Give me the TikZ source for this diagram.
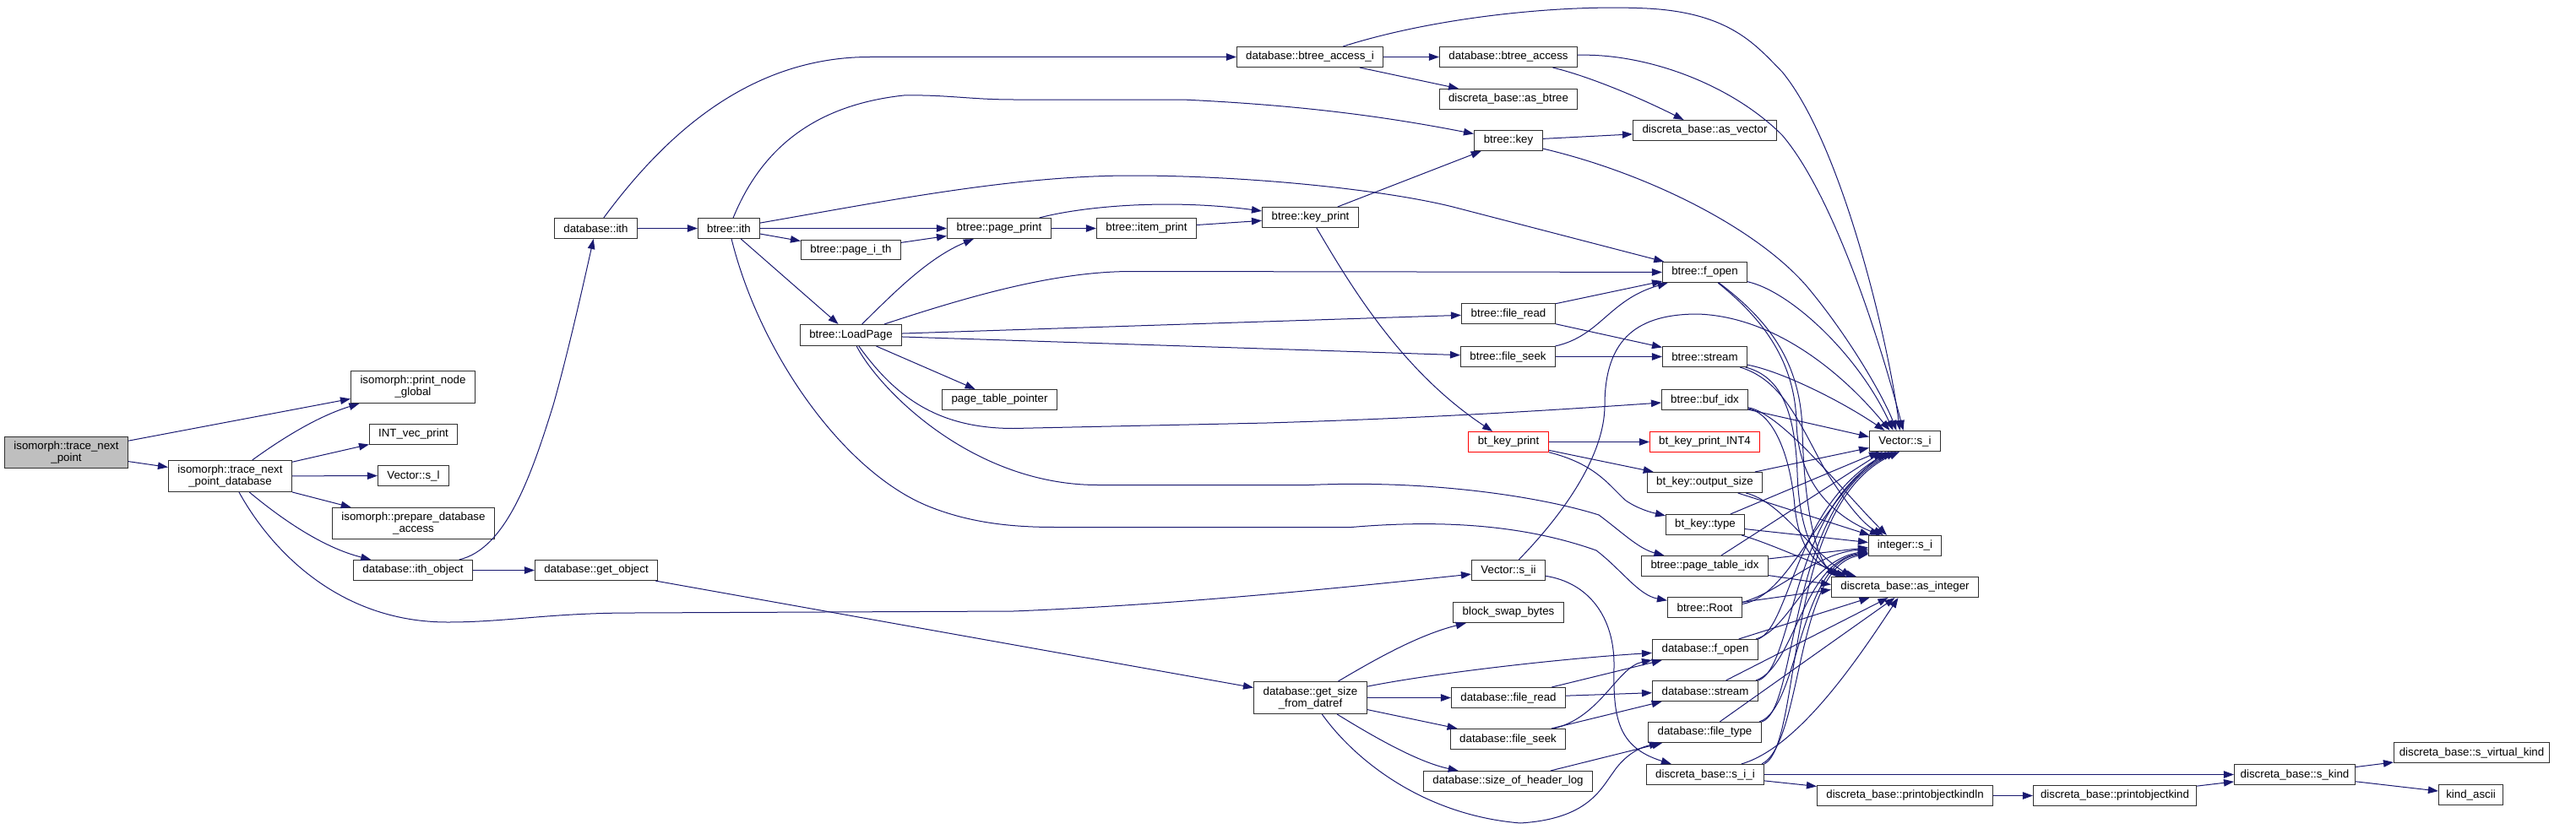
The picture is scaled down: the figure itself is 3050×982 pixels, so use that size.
\documentclass[tikz,border=0pt]{standalone}
\usepackage{fontspec}
\setmainfont{Liberation Sans}
\usetikzlibrary{arrows.meta}
\definecolor{edgec}{HTML}{191970}
\definecolor{boxc}{HTML}{303030}
\tikzset{
  nbox/.style={draw=boxc, line width=1.1pt, inner sep=0pt, align=center,
    font=\fontsize{13.3}{14}\selectfont, fill=white},
  redbox/.style={draw=red},
  graybox/.style={fill=gray!50},
  edge/.style={draw=edgec, line width=1pt, -{Triangle[length=12pt,width=8.5pt]}},
}
\newcommand{\gnode}[7][]{\node[nbox,#1,minimum width=#5pt,minimum height=#6pt] (#2) at (#3+0.5,#4+0.5) {#7};}
\begin{document}
\begin{tikzpicture}[x=1pt,y=-1pt]
\useasboundingbox (0,0) rectangle (3050,982);
% nodes
\gnode[graybox]{tnp}{78}{535.5}{146}{37}{isomorph::trace\_next\\\_point}
\gnode{tnpd}{272}{563.5}{146}{37}{isomorph::trace\_next\\\_point\_database}
\gnode{png}{488.5}{458}{147}{38}{isomorph::print\_node\\\_global}
\gnode{ivp}{489}{514}{104}{24}{INT\_vec\_print}
\gnode{vsl}{489}{563}{84}{24}{Vector::s\_l}
\gnode{pda}{489}{619.5}{192}{37}{isomorph::prepare\_database\\\_access}
\gnode{ito}{488.5}{675}{141}{24}{database::ith\_object}
\gnode{dith}{705}{270}{98}{24}{database::ith}
\gnode{gobj}{705.5}{675}{145}{24}{database::get\_object}
\gnode{bith}{862.5}{270}{73}{24}{btree::ith}
\gnode{pith}{1007}{295.5}{118}{23}{btree::page\_i\_th}
\gnode{lp}{1007}{396.5}{120}{25}{btree::LoadPage}
\gnode{pp}{1182.5}{270}{123}{24}{btree::page\_print}
\gnode{ptp}{1183}{473}{136}{24}{page\_table\_pointer}
\gnode{ip}{1357}{270}{118}{24}{btree::item\_print}
\gnode{bai}{1550.5}{67}{173}{24}{database::btree\_access\_i}
\gnode{kp}{1551}{257}{114}{24}{btree::key\_print}
\gnode{ba}{1785.5}{67}{163}{24}{database::btree\_access}
\gnode{asb}{1785.5}{117}{163}{24}{discreta\_base::as\_btree}
\gnode{key}{1785.5}{166}{81}{24}{btree::key}
\gnode{asv}{2018}{154}{170}{24}{discreta\_base::as\_vector}
\gnode{bfo}{2018}{322}{100}{24}{btree::f\_open}
\gnode{bfr}{1785.5}{371}{111}{24}{btree::file\_read}
\gnode{bfs}{1785}{422}{112}{24}{btree::file\_seek}
\gnode{bst}{2018}{422}{100}{24}{btree::stream}
\gnode{bbi}{2018}{473}{102}{24}{btree::buf\_idx}
\gnode[redbox]{bkp}{1785.5}{523}{95}{24}{bt\_key\_print}
\gnode{vsii}{1785.5}{675}{87}{24}{Vector::s\_ii}
\gnode{bsb}{1785.5}{725}{131}{24}{block\_swap\_bytes}
\gnode{gsd}{1551}{826}{134}{38}{database::get\_size\\\_from\_datref}
\gnode{dfr}{1785.5}{826}{135}{24}{database::file\_read}
\gnode{dfs}{1785}{875}{136}{24}{database::file\_seek}
\gnode{shl}{1785}{925}{200}{24}{database::size\_of\_header\_log}
\gnode[redbox]{int4}{2018}{523}{130}{24}{bt\_key\_print\_INT4}
\gnode{bos}{2018}{571}{136}{24}{bt\_key::output\_size}
\gnode{bty}{2018.5}{621}{93}{24}{bt\_key::type}
\gnode{pti}{2018}{670}{150}{24}{btree::page\_table\_idx}
\gnode{root}{2018}{719}{88}{24}{btree::Root}
\gnode{dfo}{2018.5}{769}{125}{24}{database::f\_open}
\gnode{dst}{2018.5}{818}{125}{24}{database::stream}
\gnode{dft}{2018}{867}{134}{24}{database::file\_type}
\gnode{sii}{2018.5}{917}{139}{24}{discreta\_base::s\_i\_i}
\gnode{vsi}{2255}{522}{84}{24}{Vector::s\_i}
\gnode{isi}{2255}{646}{86}{24}{integer::s\_i}
\gnode{asi}{2255}{695}{174}{24}{discreta\_base::as\_integer}
\gnode{pokl}{2255}{942}{208}{24}{discreta\_base::printobjectkindln}
\gnode{pok}{2503.5}{942}{193}{24}{discreta\_base::printobjectkind}
\gnode{sk}{2716.5}{917}{143}{24}{discreta\_base::s\_kind}
\gnode{svk}{2926}{891}{184}{24}{discreta\_base::s\_virtual\_kind}
\gnode{ka}{2925}{941}{76}{24}{kind\_ascii}
% edges: left part
\draw[edge] (tnp) -- (png);
\draw[edge] (tnp) -- (tnpd);
\draw[edge] (tnpd) .. controls (340,515) and (380,492) .. (png);
\draw[edge] (tnpd) -- (ivp);
\draw[edge] (tnpd) -- (vsl);
\draw[edge] (tnpd) -- (pda);
\draw[edge] (tnpd) .. controls (330,612) and (380,648) .. (ito);
\draw[edge] (tnpd) .. controls (320,650) and (400,737) .. (530,737) .. controls (600,737) and (650,726) .. (750,726) -- (1200,724) .. controls (1400,716) and (1600,695) .. (vsii);
\draw[edge] (ito) .. controls (600,650) and (630,560) .. (655,480) .. controls (672,420) and (690,340) .. (dith);
\draw[edge] (ito) -- (gobj);
\draw[edge] (gobj) -- (gsd);
\draw[edge] (dith) .. controls (780,170) and (880,67.5) .. (1030,67.5) -- (bai);
\draw[edge] (dith) -- (bith);
% btree_access
\draw[edge] (bai) -- (ba);
\draw[edge] (bai) -- (asb);
\draw[edge] (bai) .. controls (1700,20) and (1850,5) .. (1950,10) .. controls (2050,15) and (2080,55) .. (2110,85) .. controls (2180,170) and (2235,400) .. ([xshift=-6pt]vsi.north);
\draw[edge] (ba) .. controls (1880,90) and (1940,115) .. (asv);
\draw[edge] (ba) .. controls (1950,63) and (2050,100) .. (2110,160) .. controls (2170,230) and (2225,400) .. ([xshift=-2pt]vsi.north);
% btree::ith
\draw[edge] (bith) .. controls (900,180) and (960,125) .. (1070,113) .. controls (1120,112) and (1150,118) .. (1200,118) -- (1400,118) .. controls (1550,125) and (1650,140) .. (key);
\draw[edge] (bith) .. controls (1050,238) and (1200,208) .. (1340,208) .. controls (1480,208) and (1640,225) .. (1720,245) -- (bfo);
\draw[edge] (bith) -- (pp);
\draw[edge] (bith) -- (pith);
\draw[edge] (bith) -- (lp);
\draw[edge] (bith) .. controls (900,420) and (1000,560) .. (1100,600) .. controls (1150,620) and (1200,624.5) .. (1250,624.5) -- (1600,624.5) .. controls (1700,616) and (1800,620) .. (1890,652) .. controls (1920,675) and (1940,705) .. (root);
\draw[edge] (pith) -- (pp);
\draw[edge] (pp) -- (ip);
\draw[edge] (pp) .. controls (1280,245) and (1380,235) .. (kp);
\draw[edge] (ip) -- (kp);
\draw[edge] (kp) -- (key);
\draw[edge] (kp) .. controls (1600,340) and (1660,440) .. (bkp);
\draw[edge] (key) -- (asv);
\draw[edge] (key) .. controls (1950,205) and (2080,270) .. (2140,340) .. controls (2190,400) and (2230,470) .. ([xshift=-10pt]vsi.north);
% LoadPage
\draw[edge] (lp) .. controls (1060,345) and (1100,305) .. (pp);
\draw[edge] (lp) .. controls (1150,350) and (1250,321.5) .. (1340,321.5) -- (bfo);
\draw[edge] (lp) -- (bfr);
\draw[edge] (lp) -- (bfs);
\draw[edge] (lp) -- (ptp);
\draw[edge] (lp) .. controls (1060,470) and (1110,507.5) .. (1200,507.5) -- (1500,501) .. controls (1700,495) and (1850,485) .. (bbi);
\draw[edge] (lp) .. controls (1040,460) and (1150,574.5) .. (1300,574.5) -- (1550,574.5) .. controls (1700,568) and (1830,590) .. (1893,610) .. controls (1920,630) and (1940,650) .. (pti);
\draw[edge] (bfr) -- (bfo);
\draw[edge] (bfr) -- (bst);
\draw[edge] (bfs) .. controls (1895,398) and (1905,355) .. (bfo);
\draw[edge] (bfs) -- (bst);
% bt_key_print
\draw[edge] (bkp) -- (int4);
\draw[edge] (bkp) -- (bos);
\draw[edge] (bkp) .. controls (1890,550) and (1905,575) .. (1925,593) .. controls (1940,603) and (1955,607) .. (bty);
% Vector::s_ii
\draw[edge] (vsii) .. controls (1850,610) and (1900,540) .. (1900,480) .. controls (1900,400) and (1940,372) .. (2010,372) .. controls (2100,375) and (2180,440) .. ([xshift=-18pt]vsi.north);
\draw[edge] (vsii) .. controls (1880,690) and (1912,730) .. (1911,790) .. controls (1910,850) and (1915,885) .. (sii);
% get_size_from_datref
\draw[edge] (gsd) .. controls (1630,780) and (1680,752) .. (bsb);
\draw[edge] (gsd) .. controls (1700,797) and (1850,780) .. (dfo);
\draw[edge] (gsd) -- (dfr);
\draw[edge] (gsd) -- (dfs);
\draw[edge] (gsd) .. controls (1630,875) and (1680,903) .. (shl);
\draw[edge] (gsd) .. controls (1600,895) and (1680,965) .. (1800,975) .. controls (1880,970) and (1895,935) .. (1910,915) .. controls (1920,900) and (1935,887) .. (dft);
\draw[edge] (dfr) -- (dfo);
\draw[edge] (dfr) -- (dst);
\draw[edge] (dfs) .. controls (1895,850) and (1915,790) .. (dfo);
\draw[edge] (dfs) -- (dst);
\draw[edge] (shl) -- (dft);
% into the sinks
\draw[edge] (bfo) .. controls (2120,345) and (2200,420) .. ([xshift=-14pt]vsi.north);
\draw[edge] (bfo) .. controls (2090,380) and (2125,430) .. (2127,500) .. controls (2129,580) and (2180,615) .. ([xshift=14pt]isi.north west);
\draw[edge] (bfo) .. controls (2095,380) and (2132,430) .. (2134,510) .. controls (2136,600) and (2150,660) .. ([xshift=6pt]asi.north west);
\draw[edge] (bst) .. controls (2110,440) and (2180,475) .. ([xshift=-24pt]vsi.north);
\draw[edge] (bst) .. controls (2110,450) and (2130,500) .. (2160,555) .. controls (2185,595) and (2205,620) .. ([xshift=18pt]isi.north west);
\draw[edge] (bst) .. controls (2105,445) and (2125,480) .. (2128,560) .. controls (2130,630) and (2150,665) .. ([xshift=12pt]asi.north west);
\draw[edge] (bbi) -- ([yshift=5pt]vsi.west);
\draw[edge] (bbi) .. controls (2110,490) and (2180,580) .. ([xshift=22pt]isi.north west);
\draw[edge] (bbi) .. controls (2100,490) and (2120,540) .. (2125,600) .. controls (2130,650) and (2150,670) .. ([xshift=18pt]asi.north west);
\draw[edge] (bos) -- ([yshift=-8pt]vsi.west);
\draw[edge] (bos) -- ([xshift=2pt]isi.north west);
\draw[edge] (bos) .. controls (2110,595) and (2140,650) .. ([xshift=24pt]asi.north west);
\draw[edge] (bty) -- ([xshift=12pt]vsi.south west);
\draw[edge] (bty) -- ([yshift=4pt]isi.west);
\draw[edge] (bty) .. controls (2100,645) and (2150,670) .. ([xshift=30pt]asi.north west);
\draw[edge] (pti) -- ([xshift=16pt]vsi.south west);
\draw[edge] (pti) -- ([yshift=-2pt]isi.west);
\draw[edge] (pti) -- ([yshift=3pt]asi.west);
\draw[edge] ([yshift=4pt]root.east) .. controls (2120,705) and (2150,600) .. ([xshift=20pt]vsi.south west);
\draw[edge] ([yshift=6pt]root.east) .. controls (2110,700) and (2150,655) .. ([yshift=-4pt]isi.west);
\draw[edge] (root) -- ([yshift=-3pt]asi.west);
\draw[edge] (dfo.north east) .. controls (2120,740) and (2125,600) .. ([xshift=24pt]vsi.south west);
\draw[edge] ([xshift=-3pt]dfo.north east) .. controls (2120,745) and (2140,665) .. ([yshift=-6pt]isi.west);
\draw[edge] (dfo) -- ([xshift=-42pt]asi.south);
\draw[edge] (dst.north east) .. controls (2125,790) and (2120,600) .. ([xshift=28pt]vsi.south west);
\draw[edge] ([xshift=-3pt]dst.north east) .. controls (2125,790) and (2135,665) .. ([yshift=-8pt]isi.west);
\draw[edge] (dst) -- ([xshift=-20pt]asi.south);
\draw[edge] (dft.north east) .. controls (2130,840) and (2115,600) .. ([xshift=32pt]vsi.south west);
\draw[edge] ([xshift=-3pt]dft.north east) .. controls (2130,840) and (2130,665) .. ([yshift=-9pt]isi.west);
\draw[edge] (dft) -- ([xshift=-12pt]asi.south);
\draw[edge] (sii.north east) .. controls (2135,880) and (2110,600) .. ([xshift=36pt]vsi.south west);
\draw[edge] ([xshift=-3pt]sii.north east) .. controls (2135,880) and (2125,670) .. ([yshift=-10pt]isi.west);
\draw[edge] (sii) .. controls (2130,885) and (2200,780) .. ([xshift=-8pt]asi.south);
% s_kind chain
\draw[edge] (sii) -- (sk);
\draw[edge] (sii) -- (pokl);
\draw[edge] (pokl) -- (pok);
\draw[edge] (pok) -- (sk);
\draw[edge] (sk) -- (svk);
\draw[edge] (sk) -- (ka);
\end{tikzpicture}
\end{document}
